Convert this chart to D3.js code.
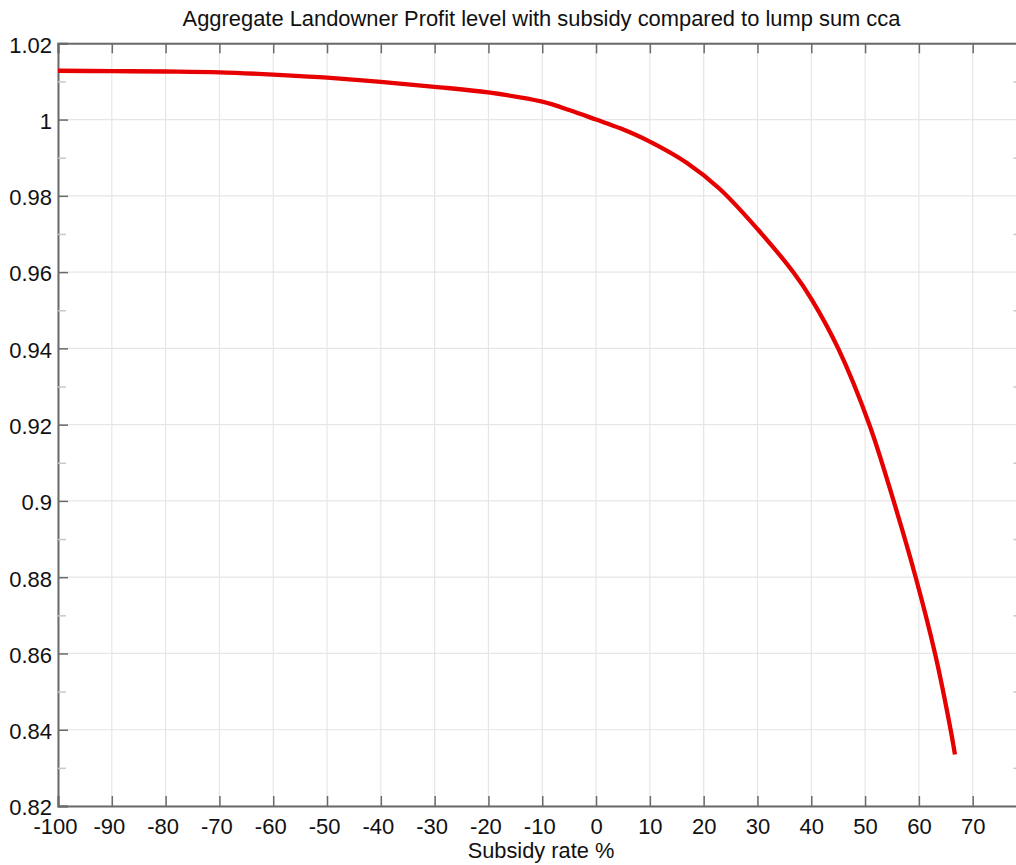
<!DOCTYPE html>
<html>
<head>
<meta charset="utf-8">
<script src="https://cdn.jsdelivr.net/npm/d3@7"></script>
<style>
  html, body { margin: 0; padding: 0; background: #fff; }
  svg { display: block; font-family: "Liberation Sans", Arial, sans-serif; }
</style>
</head>
<body>
<svg id="chart" width="1016" height="865"></svg>
<script>
// ---- data ----
const subsidyRate = [-100, -90, -80, -70, -60, -55, -50, -40, -30, -20, -10, -5, 0, 4.5, 10, 16.9, 23, 30, 36.7, 40, 45, 50.8, 55.3, 59.4, 63.0, 65.9, 66.7];
const profitLevel = [1.0128, 1.0127, 1.0126, 1.0124, 1.0118, 1.0114, 1.0110, 1.0099, 1.0086, 1.0071, 1.0047, 1.0025, 1.0, 0.9977, 0.9942, 0.9886, 0.9818, 0.9713, 0.9599, 0.9530, 0.9400, 0.9200, 0.9000, 0.8800, 0.8600, 0.8400, 0.8335];
const xTicks = [-100, -90, -80, -70, -60, -50, -40, -30, -20, -10, 0, 10, 20, 30, 40, 50, 60, 70, 80];
const xTickLabels = ["-100", "-90", "-80", "-70", "-60", "-50", "-40", "-30", "-20", "-10", "0", "10", "20", "30", "40", "50", "60", "70", ""];
const yTicks = [0.82, 0.84, 0.86, 0.88, 0.90, 0.92, 0.94, 0.96, 0.98, 1.00, 1.02];
const yTickLabels = ["0.82", "0.84", "0.86", "0.88", "0.9", "0.92", "0.94", "0.96", "0.98", "1", "1.02"];
const yMinorTicks = [0.83, 0.85, 0.87, 0.89, 0.91, 0.93, 0.95, 0.97, 0.99, 1.01];
const titleText = "Aggregate Landowner Profit level with subsidy compared to lump sum cca";
const xLabelText = "Subsidy rate %";

// ---- layout ----
const svg = d3.select("#chart");
const L = 58, R = 1026.5, T = 43.3, B = 806;
const x = d3.scaleLinear().domain([-100, 80]).range([L, R]);
const y = d3.scaleLinear().domain([0.82, 1.02]).range([B, T]);
const axisCol = "#6a6a6a";
const gridCol = "#e6e6e6";

// grid
const grid = svg.append("g");
grid.selectAll("line.gx").data(xTicks).join("line")
  .attr("x1", d => x(d)).attr("x2", d => x(d)).attr("y1", T).attr("y2", B)
  .attr("stroke", gridCol).attr("stroke-width", 1.2);
grid.selectAll("line.gy").data(yTicks).join("line")
  .attr("x1", L).attr("x2", R).attr("y1", d => y(d)).attr("y2", d => y(d))
  .attr("stroke", gridCol).attr("stroke-width", 1.2);

// axes with inward ticks
const gBottom = svg.append("g").attr("transform", `translate(0,${B})`)
  .call(d3.axisBottom(x).tickValues(xTicks).tickSize(-10).tickPadding(12)
    .tickFormat((d, i) => xTickLabels[i]));
const gTop = svg.append("g").attr("transform", `translate(0,${T})`)
  .call(d3.axisTop(x).tickValues(xTicks).tickSize(-10).tickFormat(""));
const gLeft = svg.append("g").attr("transform", `translate(${L},0)`)
  .call(d3.axisLeft(y).tickValues(yTicks).tickSize(-10).tickPadding(16)
    .tickFormat((d, i) => yTickLabels[i]));
const gLeftMinor = svg.append("g").attr("transform", `translate(${L},0)`)
  .call(d3.axisLeft(y).tickValues(yMinorTicks).tickSize(-8).tickFormat(""));
const gRightMinor = svg.append("g").attr("transform", `translate(${R},0)`)
  .call(d3.axisRight(y).tickValues(yMinorTicks).tickSize(-13).tickFormat(""));

[gBottom, gTop, gLeft, gLeftMinor, gRightMinor].forEach(g => {
  g.select(".domain").attr("stroke", axisCol).attr("stroke-width", 2);
  g.selectAll(".tick line").attr("stroke", axisCol).attr("stroke-width", 1.5);
});
[gLeftMinor, gRightMinor].forEach(g => {
  g.select(".domain").remove();
  g.selectAll(".tick line").attr("stroke", "#c8c8c8");
});

gBottom.selectAll(".tick text")
  .attr("font-size", 22).attr("fill", "#111")
  .attr("font-family", "Liberation Sans, Arial, sans-serif")
  .attr("dx", d => d < 0 ? -3 : 0);
gLeft.selectAll(".tick text")
  .attr("font-size", 22).attr("fill", "#111")
  .attr("font-family", "Liberation Sans, Arial, sans-serif")
  .attr("x", -6).attr("dy", "0.4em");

// line
const line = d3.line()
  .x((d, i) => x(subsidyRate[i]))
  .y(d => y(d))
  .curve(d3.curveCatmullRom.alpha(0.5));
svg.append("path")
  .datum(profitLevel)
  .attr("d", line)
  .attr("fill", "none")
  .attr("stroke", "#e60000")
  .attr("stroke-width", 4.3)
  .attr("stroke-linejoin", "round");

// texts
svg.append("text")
  .attr("x", 541.5).attr("y", 26)
  .attr("text-anchor", "middle")
  .attr("font-size", 21.9).attr("fill", "#111")
  .text(titleText);
svg.append("text")
  .attr("x", 541).attr("y", 858)
  .attr("text-anchor", "middle")
  .attr("font-size", 21.8).attr("fill", "#111")
  .text(xLabelText);
</script>
</body>
</html>
